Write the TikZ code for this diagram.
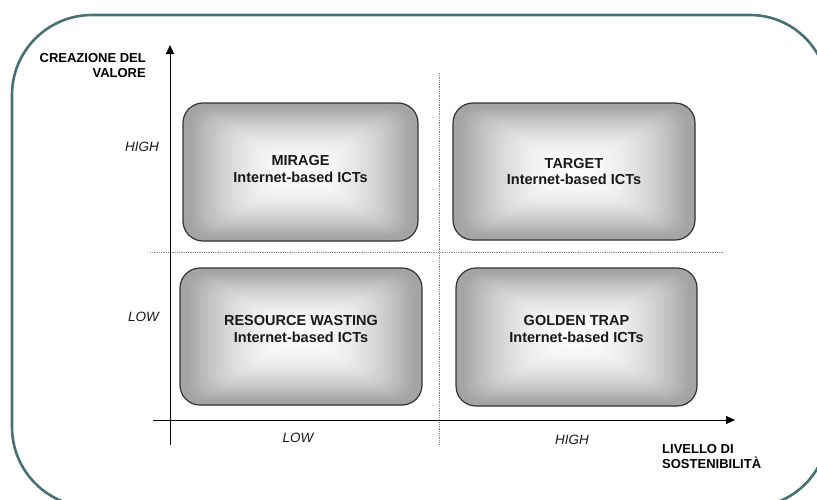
\documentclass[tikz,border=0pt]{standalone}
\usepackage{fontspec}
\setmainfont{Liberation Sans}
\usetikzlibrary{arrows.meta,calc}

\definecolor{framecol}{RGB}{74,112,116}
\definecolor{boxgray}{RGB}{164,164,164}
\definecolor{boxedge}{RGB}{50,50,50}
\definecolor{divcol}{RGB}{130,130,130}
\definecolor{softblack}{RGB}{25,25,25}

\tikzset{
  frameline/.style={draw=framecol, line width=2.6pt},
  axis/.style={draw=black, line width=1pt, -{Triangle[length=9pt,width=8pt]}},
  divider/.style={draw=divcol, line width=0.8pt, dash pattern=on 0.9pt off 0.9pt},
  % rounded box with a centre-out rectangular glow
  quadbox/.style={draw=boxedge, line width=1.2pt, rounded corners=20pt,
    inner sep=0pt, fill=boxgray,
    path picture={
      \foreach \k in {0,...,44}{
        \pgfmathsetmacro{\t}{1-\k/44}
        \pgfmathsetmacro{\u}{max(0,1-\t/0.95)}
        \pgfmathsetmacro{\p}{97*\u*(2-\u)}
        \pgfmathsetmacro{\r}{max(1,19*\t)}
        \fill[white!\p!boxgray, rounded corners=\r pt]
          ($(path picture bounding box.center)!\t!(path picture bounding box.south west)$)
          rectangle
          ($(path picture bounding box.center)!\t!(path picture bounding box.north east)$);
      }
    }},
  boxtext/.style={align=center, inner sep=0pt, text=softblack,
    font=\fontsize{14.5}{16.8}\selectfont\bfseries},
  axistitle/.style={inner sep=0pt, text=black,
    font=\fontsize{13}{15.5}\selectfont\bfseries},
  level/.style={inner sep=0pt, text=softblack,
    font=\fontsize{13.5}{15}\selectfont\itshape},
}

\begin{document}
\begin{tikzpicture}[x=1pt,y=-1pt]
\useasboundingbox (0,0) rectangle (817,499);

% outer frame with rounded corners (right and bottom sides run past the page edge)
\draw[frameline] (12,427) -- (12,95)
  arc[start angle=180,end angle=270,radius=80] -- (750,15)
  arc[start angle=270,end angle=360,radius=78] -- (828,429)
  arc[start angle=0,end angle=90,radius=78] -- (92,507)
  arc[start angle=90,end angle=180,radius=80] -- cycle;

% quadrant dividers
\coordinate (vdiv-top) at (439,73);
\coordinate (vdiv-bot) at (439,445);
\coordinate (hdiv-l) at (150,252);
\coordinate (hdiv-r) at (723,252);
\draw[divider] (vdiv-top) -- (vdiv-bot);
\draw[divider] (hdiv-l) -- (hdiv-r);

% axes
\coordinate (yaxis-bot) at (170,445);
\coordinate (yaxis-top) at (170,45);
\coordinate (xaxis-l) at (153,420);
\coordinate (xaxis-r) at (735,420);
\draw[axis] (yaxis-bot) -- (yaxis-top);
\draw[axis] (xaxis-l) -- (xaxis-r);

% quadrant boxes
\node[quadbox, minimum width=235pt, minimum height=138pt] (mirage) at (300.5,172) {};
\node[quadbox, minimum width=242pt, minimum height=137pt] (target) at (574,171.5) {};
\node[quadbox, minimum width=242pt, minimum height=137pt] (waste) at (301,336.5) {};
\node[quadbox, minimum width=241pt, minimum height=138pt] (trap) at (576.5,337) {};

\node[boxtext, yshift=3pt] (mirage-t) at (mirage) {MIRAGE\\Internet-based ICTs};
\node[boxtext, yshift=0pt] (target-t) at (target) {TARGET\\Internet-based ICTs};
\node[boxtext, yshift=7.5pt] (waste-t) at (waste) {RESOURCE WASTING\\Internet-based ICTs};
\node[boxtext, yshift=8pt] (trap-t) at (trap) {GOLDEN TRAP\\Internet-based ICTs};

% axis titles
\node[axistitle, align=right, anchor=north east] (ytitle) at (146,53) {CREAZIONE DEL\\VALORE};
\node[axistitle, align=left, anchor=north west] (xtitle) at (662,444) {LIVELLO DI\\SOSTENIBILITÀ};

% level labels
\node[level, anchor=east] (yhigh) at (159,147) {HIGH};
\node[level, anchor=east] (ylow) at (159,317) {LOW};
\node[level] (xlow) at (298,438) {LOW};
\node[level] (xhigh) at (572,440) {HIGH};
\end{tikzpicture}
\end{document}
